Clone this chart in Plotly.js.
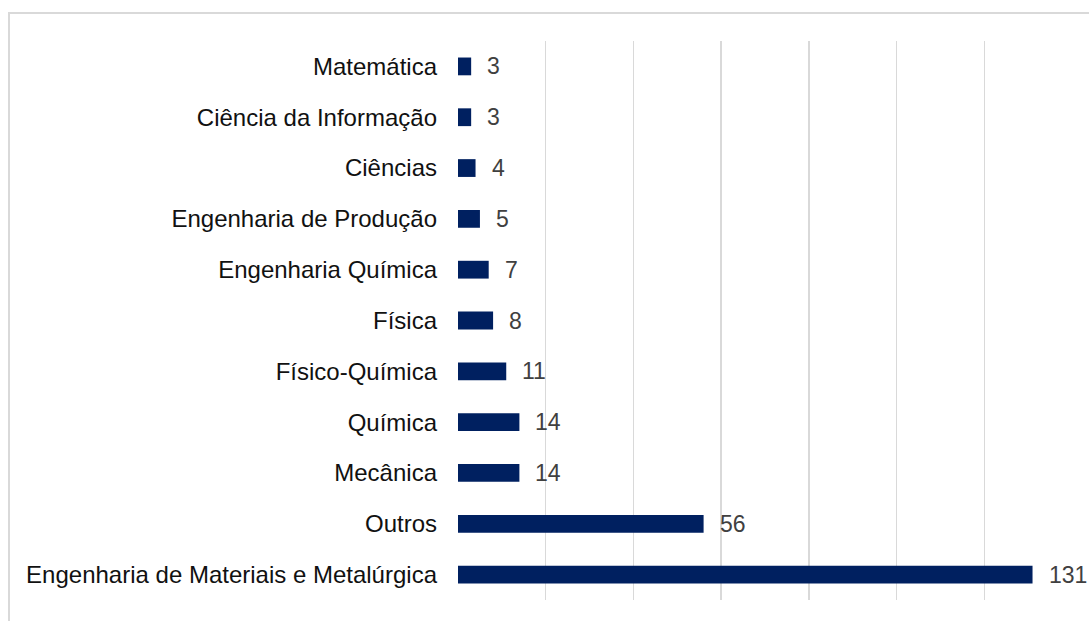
<!DOCTYPE html>
<html><head><meta charset="utf-8">
<script src="https://cdn.plot.ly/plotly-3.0.1.min.js"></script>
<style>html,body{margin:0;padding:0;background:#fff;}#chart{width:1089px;height:621px;}
#frame{position:absolute;left:8px;top:12px;width:1100px;height:640px;border:2px solid #d9d9d9;box-sizing:border-box;pointer-events:none;}</style>
</head><body>
<div id="chart"></div>
<div id="frame"></div>
<script>
const categories = ["Matemática","Ciência da Informação","Ciências","Engenharia de Produção","Engenharia Química","Física","Físico-Química","Química","Mecânica","Outros","Engenharia de Materiais e Metalúrgica"];
const values = [3,3,4,5,7,8,11,14,14,56,131];

const trace = {
  type:'bar', orientation:'h', x:values, y:categories,
  marker:{color:'#002060'}, hoverinfo:'none'
};
const annotations = values.map((v,i)=>({
  x:v, y:categories[i], xref:'x', yref:'y', text:String(v), showarrow:false,
  xanchor:'left', xshift:14, font:{family:'Liberation Sans, Arial, sans-serif', size:23, color:'#404040'}
}));
const layout = {
  width:1089, height:621,
  margin:{l:458, r:17, t:41, b:21, pad:0},
  paper_bgcolor:'rgba(0,0,0,0)', plot_bgcolor:'#fff',
  bargap:0.65,
  showlegend:false,
  xaxis:{range:[0,140], dtick:20, showgrid:true, gridcolor:'#d9d9d9', gridwidth:1.5, showticklabels:false, zeroline:false, showline:false, fixedrange:true},
  yaxis:{type:'category', autorange:'reversed', showgrid:false, zeroline:false, showline:false, ticks:'', ticklen:0,
    tickfont:{family:'Liberation Sans, Arial, sans-serif', size:24, color:'#111'}, ticklabelstandoff:20},
  annotations:annotations,
  font:{family:'Liberation Sans, Arial, sans-serif'}
};
Plotly.newPlot('chart',[trace],layout,{displayModeBar:false,staticPlot:true});
</script>
</body></html>
